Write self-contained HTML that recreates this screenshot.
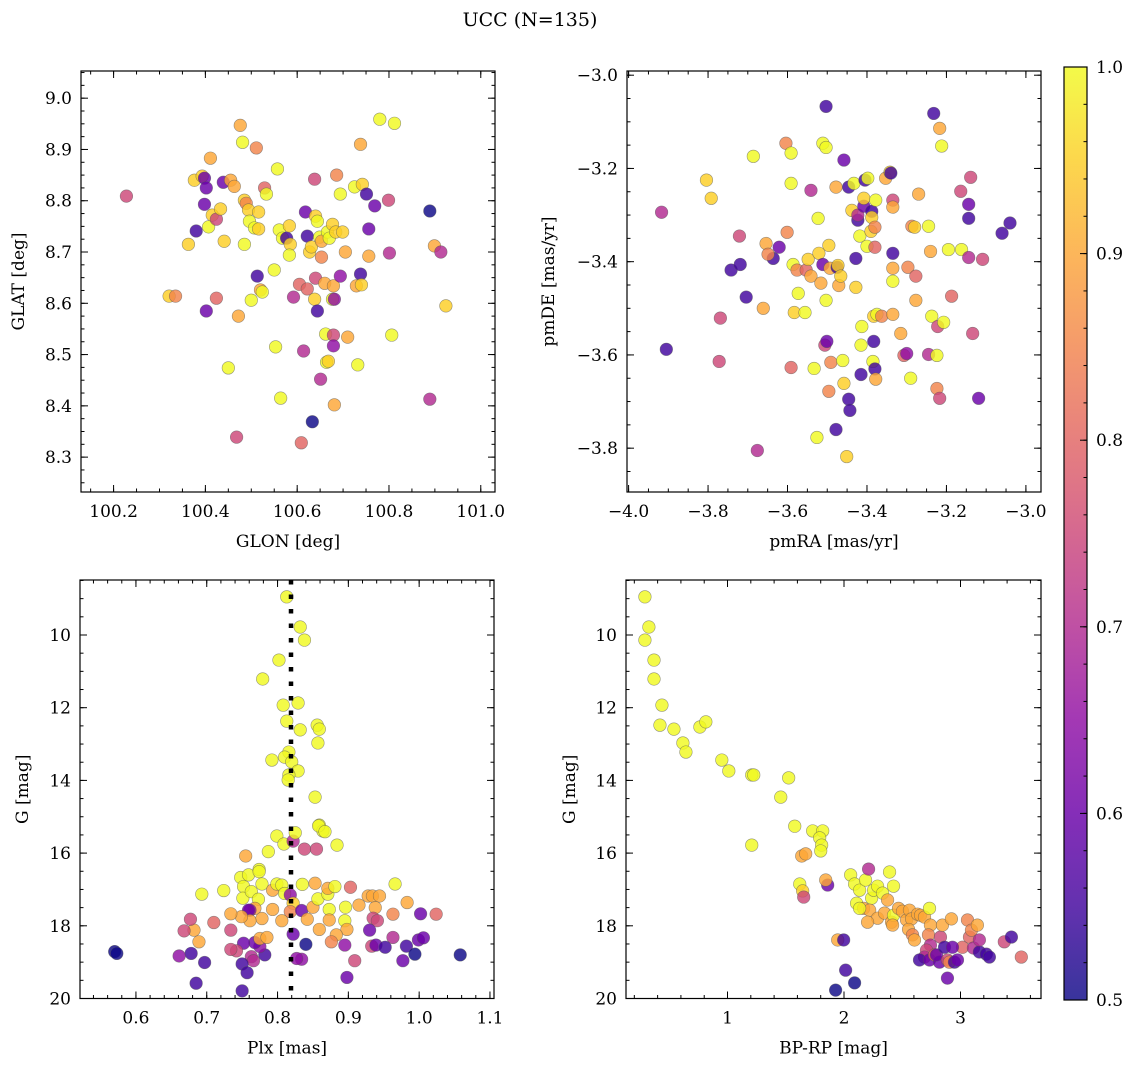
<!DOCTYPE html>
<html><head><meta charset="utf-8">
<style>
html,body{margin:0;padding:0;background:#fff;}
svg{display:block;font-family:"DejaVu Serif","Liberation Serif",serif;}
</style></head>
<body>
<svg id="chart" width="1136" height="1067" viewBox="0 0 1136 1067" xmlns="http://www.w3.org/2000/svg">
<rect width="1136" height="1067" fill="#fff"/>
<text x="530" y="26" text-anchor="middle" font-size="19">UCC (N=135)</text>
</svg>
<script>
// ---------- Panel 1: GLON vs GLAT ----------
const p1_glon=[100.228,100.321,100.335,100.363,100.376,100.380,100.393,100.398,100.402,100.398,100.402,100.407,100.411,100.415,100.424,100.424,100.433,100.441,100.439,100.450,100.455,100.463,100.468,100.472,100.476,100.481,100.485,100.485,100.489,100.494,100.496,100.500,100.507,100.511,100.516,100.516,100.520,100.524,100.529,100.533,100.513,100.550,100.553,100.557,100.561,100.564,100.568,100.577,100.583,100.585,100.583,100.592,100.605,100.609,100.614,100.618,100.622,100.622,100.627,100.631,100.638,100.633,100.638,100.640,100.640,100.644,100.644,100.651,100.649,100.653,100.653,100.660,100.662,100.664,100.666,100.670,100.668,100.677,100.677,100.679,100.681,100.679,100.679,100.681,100.684,100.686,100.694,100.694,100.699,100.705,100.710,100.725,100.729,100.732,100.738,100.738,100.740,100.742,100.751,100.756,100.756,100.769,100.780,100.799,100.801,100.806,100.812,100.889,100.889,100.899,100.913,100.924];
const p1_glat=[8.809,8.614,8.614,8.715,8.840,8.741,8.848,8.844,8.825,8.793,8.585,8.749,8.883,8.772,8.764,8.610,8.784,8.721,8.836,8.474,8.840,8.828,8.339,8.575,8.947,8.914,8.715,8.801,8.795,8.782,8.760,8.606,8.747,8.903,8.778,8.745,8.626,8.622,8.825,8.813,8.653,8.665,8.515,8.862,8.743,8.415,8.727,8.727,8.751,8.715,8.694,8.612,8.637,8.328,8.507,8.778,8.731,8.628,8.700,8.710,8.608,8.369,8.842,8.649,8.770,8.760,8.585,8.452,8.729,8.721,8.690,8.639,8.540,8.485,8.739,8.727,8.487,8.754,8.608,8.634,8.608,8.538,8.517,8.402,8.739,8.850,8.813,8.653,8.739,8.700,8.534,8.827,8.634,8.480,8.657,8.910,8.636,8.832,8.813,8.692,8.745,8.790,8.959,8.801,8.698,8.538,8.951,8.780,8.413,8.712,8.700,8.595];
const p1_c=[.75,.95,.85,.95,.95,.55,.95,.6,.6,.6,.6,1,.9,.95,.75,.8,.95,.95,.6,1,.9,.9,.75,.9,.9,1,1,.95,.85,.95,1,1,1,.85,.95,.95,.9,1,.8,1,.55,1,1,1,1,1,1,.55,.95,.95,1,.7,.8,.8,.7,.6,.55,.8,.95,.95,.95,.5,.75,.75,.95,1,.55,.7,1,.9,.85,.9,1,1,1,1,.95,.95,1,.9,.65,.75,.65,.9,.95,.85,1,.65,.95,.9,.9,1,.9,1,.55,.9,.95,.95,.55,.9,.6,.6,1,.75,.7,1,1,.5,.7,.9,.7,.95];
const p1_xticks=[100.2,100.4,100.6,100.8,101.0];
const p1_xlabels=["100.2","100.4","100.6","100.8","101.0"];
const p1_yticks=[8.3,8.4,8.5,8.6,8.7,8.8,8.9,9.0];
const p1_ylabels=["8.3","8.4","8.5","8.6","8.7","8.8","8.9","9.0"];

// ---------- Panel 2: pmRA vs pmDE ----------
const p2_pmra=[-3.917,-3.905,-3.804,-3.792,-3.742,-3.721,-3.719,-3.704,-3.769,-3.772,-3.686,-3.654,-3.636,-3.649,-3.661,-3.621,-3.604,-3.601,-3.591,-3.591,-3.591,-3.676,-3.586,-3.583,-3.576,-3.573,-3.556,-3.553,-3.548,-3.541,-3.541,-3.533,-3.526,-3.523,-3.521,-3.516,-3.511,-3.511,-3.506,-3.503,-3.503,-3.503,-3.501,-3.496,-3.496,-3.493,-3.491,-3.478,-3.475,-3.473,-3.471,-3.478,-3.466,-3.461,-3.458,-3.458,-3.451,-3.446,-3.446,-3.443,-3.438,-3.433,-3.428,-3.428,-3.423,-3.423,-3.418,-3.415,-3.415,-3.413,-3.408,-3.408,-3.405,-3.400,-3.398,-3.390,-3.388,-3.388,-3.385,-3.383,-3.380,-3.380,-3.378,-3.383,-3.380,-3.378,-3.375,-3.363,-3.353,-3.342,-3.340,-3.335,-3.335,-3.335,-3.335,-3.335,-3.335,-3.315,-3.307,-3.300,-3.297,-3.290,-3.287,-3.280,-3.277,-3.277,-3.270,-3.245,-3.245,-3.240,-3.237,-3.232,-3.224,-3.224,-3.222,-3.217,-3.217,-3.212,-3.207,-3.195,-3.187,-3.162,-3.164,-3.144,-3.144,-3.144,-3.139,-3.134,-3.119,-3.109,-3.06,-3.04];
const p2_pmde=[-3.294,-3.588,-3.225,-3.264,-3.418,-3.345,-3.406,-3.476,-3.521,-3.614,-3.174,-3.361,-3.393,-3.384,-3.500,-3.369,-3.146,-3.337,-3.167,-3.232,-3.627,-3.805,-3.406,-3.509,-3.418,-3.468,-3.509,-3.418,-3.395,-3.247,-3.431,-3.629,-3.777,-3.307,-3.382,-3.446,-3.146,-3.406,-3.579,-3.155,-3.067,-3.483,-3.571,-3.365,-3.678,-3.414,-3.616,-3.240,-3.412,-3.408,-3.451,-3.760,-3.431,-3.612,-3.182,-3.661,-3.818,-3.240,-3.695,-3.719,-3.290,-3.232,-3.393,-3.455,-3.311,-3.300,-3.345,-3.579,-3.642,-3.539,-3.281,-3.264,-3.225,-3.367,-3.221,-3.335,-3.292,-3.305,-3.614,-3.517,-3.326,-3.369,-3.268,-3.571,-3.630,-3.652,-3.513,-3.517,-3.221,-3.208,-3.210,-3.268,-3.283,-3.414,-3.382,-3.513,-3.442,-3.554,-3.601,-3.597,-3.412,-3.650,-3.324,-3.326,-3.431,-3.483,-3.255,-3.324,-3.599,-3.378,-3.517,-3.082,-3.672,-3.601,-3.539,-3.114,-3.693,-3.152,-3.530,-3.374,-3.474,-3.374,-3.249,-3.307,-3.277,-3.391,-3.219,-3.554,-3.693,-3.395,-3.339,-3.317];
const p2_c=[.7,.55,.95,.95,.55,.75,.55,.55,.75,.75,1,.9,.55,.85,.9,.6,.85,.85,1,1,.8,.7,1,.95,.85,1,1,.8,.95,.7,.9,1,1,1,.95,.9,1,.6,.75,1,.55,1,.6,.95,.85,.9,.85,.9,.55,.95,.9,.55,.95,1,.6,.95,.95,.55,.55,.55,.95,1,.55,.95,.55,.7,1,1,.55,1,.6,.95,.55,1,1,.95,.55,.95,1,.95,.85,.8,1,.55,.55,.9,1,.85,.9,.95,.55,.75,.9,.9,.55,.9,1,.9,.8,.65,.85,1,.85,.95,.8,.9,.9,1,.7,.9,1,.55,.85,1,.75,.9,.75,1,1,1,.8,1,.75,.55,.6,.7,.75,.75,.6,.75,.55,.55];
const p2_xticks=[-4.0,-3.8,-3.6,-3.4,-3.2,-3.0];
const p2_xlabels=["\u22124.0","\u22123.8","\u22123.6","\u22123.4","\u22123.2","\u22123.0"];
const p2_yticks=[-3.8,-3.6,-3.4,-3.2,-3.0];
const p2_ylabels=["\u22123.8","\u22123.6","\u22123.4","\u22123.2","\u22123.0"];

// ---------- Panel 3: Plx vs G ----------
const p3_plx=[0.813,0.832,0.838,0.802,0.779,0.808,0.829,0.813,0.856,0.859,0.832,0.857,0.816,0.810,0.792,0.820,0.829,0.816,0.815,0.853,0.799,0.859,0.864,0.809,0.884,0.822,0.838,0.855,0.755,0.787,0.825,0.858,0.867,0.693,0.724,0.748,0.752,0.759,0.774,0.774,0.778,0.751,0.763,0.773,0.768,0.761,0.793,0.799,0.806,0.810,0.818,0.822,0.818,0.835,0.853,0.834,0.850,0.857,0.871,0.871,0.881,0.903,0.873,0.873,0.842,0.859,0.896,0.895,0.898,0.883,0.876,0.895,0.915,0.928,0.934,0.944,0.938,0.935,0.941,0.966,0.963,0.983,1.024,1.002,0.930,0.963,0.933,0.939,0.952,0.982,0.994,0.999,1.006,0.977,1.058,0.909,0.898,0.840,0.834,0.827,0.822,0.782,0.775,0.768,0.763,0.766,0.752,0.750,0.757,0.750,0.742,0.734,0.734,0.759,0.775,0.785,0.778,0.761,0.749,0.734,0.793,0.806,0.710,0.682,0.689,0.677,0.668,0.678,0.661,0.697,0.685,0.570,0.573];
const p3_g=[8.95,9.78,10.14,10.69,11.21,11.93,11.87,12.37,12.48,12.59,12.61,12.97,13.22,13.36,13.44,13.49,13.74,13.85,13.99,14.46,15.53,15.23,15.39,15.75,15.78,15.67,15.89,15.89,16.08,15.96,15.44,15.25,15.41,17.13,17.03,16.67,16.92,16.60,16.45,16.51,16.85,17.24,17.06,17.27,17.52,17.57,17.02,16.85,16.88,17.11,17.15,17.38,17.61,16.86,16.83,17.58,17.49,17.26,17.13,16.97,16.92,16.94,17.55,17.84,17.82,18.10,17.49,17.86,18.10,18.25,18.44,18.53,17.43,17.18,17.18,17.18,17.50,17.79,17.86,16.85,17.68,17.36,17.68,17.67,18.12,18.32,18.56,18.53,18.59,18.56,18.78,18.39,18.33,18.96,18.80,18.96,19.42,18.51,18.92,18.90,18.23,18.80,18.57,18.46,18.85,18.96,18.48,19.05,19.29,19.79,18.69,18.65,18.12,17.57,18.35,18.32,17.80,17.86,17.75,17.67,17.55,17.86,17.91,18.12,18.44,17.82,18.14,18.76,18.83,19.01,19.58,18.71,18.76];
const p3_c=[1,1,1,1,1,1,1,1,1,1,1,1,1,1,1,1,1,1,1,1,1,1,1,1,1,.7,.75,.75,.9,1,1,1,1,1,1,1,1,1,1,1,1,1,1,1,.9,.65,.9,1,1,1,.65,.95,.85,1,.9,.6,.9,1,1,.9,1,.8,1,.9,.9,.9,1,1,.9,.9,.85,.65,.9,.9,.9,.9,.9,.75,.75,1,.85,.9,.8,.6,.6,.7,.75,.6,.55,.55,.5,.6,.6,.6,.5,.75,.6,.5,.65,.65,.6,.55,.65,.6,.7,.7,.6,.55,.55,.55,.75,.75,.75,.6,.9,.9,.9,.9,.9,.9,.9,.9,.8,.9,.9,.75,.75,.55,.65,.55,.55,.5,.5];
const p3_xticks=[0.6,0.7,0.8,0.9,1.0,1.1];
const p3_xlabels=["0.6","0.7","0.8","0.9","1.0","1.1"];
const p3_yticks=[10,12,14,16,18,20];
const p3_ylabels=["10","12","14","16","18","20"];
const p3_plxMean=[0.819];

// ---------- Panel 4: BP-RP vs G ----------
const p4_bprp=[0.291,0.325,0.291,0.369,0.369,0.437,0.420,0.540,0.763,0.814,0.617,0.643,0.951,1.011,1.208,1.225,1.525,1.457,1.208,1.577,1.731,1.817,1.637,1.671,1.620,1.645,1.654,1.791,1.808,1.800,1.860,1.946,1.997,2.014,2.091,1.928,1.843,2.057,2.091,2.134,2.185,2.211,2.237,2.254,2.288,2.331,2.374,2.391,2.425,2.108,2.168,2.220,2.288,2.348,2.408,2.202,2.425,2.134,2.417,2.468,2.502,2.537,2.562,2.580,2.554,2.588,2.605,2.631,2.657,2.691,2.734,2.742,2.725,2.742,2.708,2.691,2.648,2.734,2.777,2.820,2.794,2.828,2.845,2.863,2.888,2.905,2.948,2.888,2.922,3.017,3.077,3.060,3.094,3.145,3.111,3.162,3.222,3.248,3.162,3.376,3.437,3.522,2.931,2.974];
const p4_g=[8.95,9.78,10.14,10.69,11.21,11.93,12.48,12.59,12.53,12.39,12.97,13.22,13.44,13.74,13.85,13.85,13.93,14.46,15.78,15.26,15.39,15.39,16.08,16.02,16.85,17.04,17.21,15.58,15.78,15.94,16.88,18.39,18.39,19.22,19.57,19.77,16.74,16.60,16.85,17.02,16.74,16.44,17.24,17.02,16.91,17.10,17.29,16.52,16.91,17.38,17.52,17.57,17.79,17.65,17.90,17.90,17.71,17.52,17.98,17.52,17.60,17.84,17.57,17.81,18.10,18.25,18.39,17.68,17.71,17.76,17.52,17.98,18.25,18.53,18.67,18.86,18.94,18.94,18.80,19.00,18.80,18.31,17.98,18.59,18.94,19.00,19.00,19.44,17.81,18.59,18.31,17.84,18.12,17.98,18.61,18.72,18.78,18.86,18.39,18.44,18.31,18.86,18.59,18.94];
const p4_c=[1,1,1,1,1,1,1,1,1,1,1,1,1,1,1,1,1,1,1,1,1,1,.9,.9,1,.95,.75,1,1,1,.6,.9,.55,.55,.5,.5,.9,1,1,1,1,.7,1,1,1,1,.9,1,1,1,.9,.9,.9,.9,.9,.9,1,1,.9,.9,.9,.9,.9,.9,.9,.85,.9,.9,.9,.9,1,.9,.85,.7,.75,.7,.55,.6,.8,.6,.6,.75,.9,.55,.75,.85,.55,.6,.9,.8,.8,.85,.85,.9,.7,.55,.55,.55,.7,.75,.55,.8,.6,.6];
const p4_xticks=[1,2,3];
const p4_xlabels=["1","2","3"];
const p4_yticks=[10,12,14,16,18,20];
const p4_ylabels=["10","12","14","16","18","20"];

// ---------- Colorbar ----------
const cb_ticks=[0.5,0.6,0.7,0.8,0.9,1.0];
const cb_labels=["0.5","0.6","0.7","0.8","0.9","1.0"];

const NS="http://www.w3.org/2000/svg";
const svg=document.getElementById('chart');
const PL=["#0d0887","#41049d","#6a00a8","#8f0da4","#b12a90","#cc4778","#e16462","#f2844b","#fca636","#fcce25","#f0f921"];
const FS=17;
function hx(h){return [parseInt(h.substr(1,2),16),parseInt(h.substr(3,2),16),parseInt(h.substr(5,2),16)];}
function plasma(t){t=Math.max(0,Math.min(1,t));const s=t*10;const i=Math.min(9,Math.floor(s));const f=s-i;const a=hx(PL[i]),b=hx(PL[i+1]);
 return "rgb("+a.map((v,k)=>Math.round(v+(b[k]-v)*f)).join(",")+")";}
function cmap(v){return plasma((v-0.5)/0.5);}
function mk(tag,attrs,parent){const e=document.createElementNS(NS,tag);for(const k in attrs)e.setAttribute(k,attrs[k]);(parent||svg).appendChild(e);return e;}

function panel(o){
 const g=mk('g',{});
 
 
 const sx=v=>o.x0+(v-o.xmin)/(o.xmax-o.xmin)*(o.x1-o.x0);
 const sy=v=>o.yinv? o.y0+(v-o.ymin)/(o.ymax-o.ymin)*(o.y1-o.y0) : o.y1-(v-o.ymin)/(o.ymax-o.ymin)*(o.y1-o.y0);
 const pg=mk('g',{},g);
 
 
 for(let i=0;i<o.xs.length;i++){
  const c=mk('circle',{cx:sx(o.xs[i]),cy:sy(o.ys[i]),r:6.3,fill:cmap(o.cs[i]),'fill-opacity':0.82,stroke:'#555','stroke-opacity':0.6,'stroke-width':0.6},pg);
  
  
 }
 if(o.extra)o.extra(g,sx,sy);
 const fr=mk('rect',{x:o.x0,y:o.y0,width:o.x1-o.x0,height:o.y1-o.y0,fill:'none',stroke:'#000','stroke-width':1.2},g);
 
 
 const tg=mk('g',{stroke:'#000','stroke-width':1},g);
 
 
 function xt(v,len){const x=sx(v);if(x<o.x0-0.5||x>o.x1+0.5)return;mk('line',{x1:x,x2:x,y1:o.y1,y2:o.y1-len},tg);mk('line',{x1:x,x2:x,y1:o.y0,y2:o.y0+len},tg);}
 function yt(v,len){const y=sy(v);if(y<o.y0-0.5||y>o.y1+0.5)return;mk('line',{x1:o.x0,x2:o.x0+len,y1:y,y2:y},tg);mk('line',{x1:o.x1,x2:o.x1-len,y1:y,y2:y},tg);}
 const lo=Math.min(o.xmin,o.xmax),hi=Math.max(o.xmin,o.xmax);
 for(let k=Math.ceil(lo/o.xminor-1e-6);k*o.xminor<=hi+1e-9;k++)xt(k*o.xminor,3.5);
 const ylo=Math.min(o.ymin,o.ymax),yhi=Math.max(o.ymin,o.ymax);
 for(let k=Math.ceil(ylo/o.yminor-1e-6);k*o.yminor<=yhi+1e-9;k++)yt(k*o.yminor,3.5);
 o.xticks.forEach((v,i)=>{xt(v,7);const t=mk('text',{x:sx(v),y:o.y1+25,'text-anchor':'middle','font-size':FS},g);t.textContent=o.xlabels[i];
  });
 o.yticks.forEach((v,i)=>{yt(v,7);const t=mk('text',{x:o.x0-9,y:sy(v)+6,'text-anchor':'end','font-size':FS},g);t.textContent=o.ylabels[i];
  });
 const xl=mk('text',{x:(o.x0+o.x1)/2,y:o.y1+55,'text-anchor':'middle','font-size':FS},g);xl.textContent=o.xtitle;
 
 const yl=mk('text',{x:o.ylx,y:(o.y0+o.y1)/2,'text-anchor':'middle','font-size':FS,transform:'rotate(-90 '+o.ylx+' '+((o.y0+o.y1)/2)+')'},g);yl.textContent=o.ytitle;
 
}

panel({name:'glon-glat-panel',x0:81,x1:495,y0:71,y1:492,xmin:100.129,xmax:101.031,ymin:8.232,ymax:9.053,
 xs:p1_glon,ys:p1_glat,cs:p1_c,xticks:p1_xticks,xlabels:p1_xlabels,yticks:p1_yticks,ylabels:p1_ylabels,xminor:0.05,yminor:0.025,
 xtitle:'GLON [deg]',ytitle:'GLAT [deg]',ylx:24});
panel({name:'pm-panel',x0:627,x1:1041,y0:71,y1:492,xmin:-4.004,xmax:-2.962,ymin:-3.894,ymax:-2.991,
 xs:p2_pmra,ys:p2_pmde,cs:p2_c,xticks:p2_xticks,xlabels:p2_xlabels,yticks:p2_yticks,ylabels:p2_ylabels,xminor:0.05,yminor:0.05,
 xtitle:'pmRA [mas/yr]',ytitle:'pmDE [mas/yr]',ylx:554});
panel({name:'plx-g-panel',x0:80,x1:494,y0:580,y1:998.5,xmin:0.521,xmax:1.1057,ymin:8.487,ymax:20,yinv:true,
 xs:p3_plx,ys:p3_g,cs:p3_c,xticks:p3_xticks,xlabels:p3_xlabels,yticks:p3_yticks,ylabels:p3_ylabels,xminor:0.02,yminor:0.5,
 xtitle:'Plx [mas]',ytitle:'G [mag]',ylx:28,
 extra:(g,sx,sy)=>{p3_plxMean.forEach(v=>{const l=mk('line',{x1:sx(v),x2:sx(v),y1:580,y2:998.5,stroke:'#000','stroke-width':4.5,'stroke-dasharray':'4.5 10'},g);
  });}});
panel({name:'cmd-panel',x0:626,x1:1041,y0:580,y1:998.5,xmin:0.1286,xmax:3.691,ymin:8.487,ymax:20,yinv:true,
 xs:p4_bprp,ys:p4_g,cs:p4_c,xticks:p4_xticks,xlabels:p4_xlabels,yticks:p4_yticks,ylabels:p4_ylabels,xminor:0.2,yminor:0.5,
 xtitle:'BP-RP [mag]',ytitle:'G [mag]',ylx:575});

(function(){
 const cx0=1064,cx1=1087,cy0=67,cy1=1000;
 const defs=mk('defs',{});
 const lg=mk('linearGradient',{id:'cbg',x1:0,y1:1,x2:0,y2:0},defs);
 for(let i=0;i<=20;i++){mk('stop',{offset:(i/20),'stop-color':plasma(i/20),'stop-opacity':0.82},lg);}
 const cg=mk('g',{});
 
 
 mk('rect',{x:cx0,y:cy0,width:cx1-cx0,height:cy1-cy0,fill:'url(#cbg)',stroke:'#000','stroke-width':1.2},cg);
 const sy=v=>cy1-(v-0.5)/0.5*(cy1-cy0);
 for(let k=25;k<=50;k++){const v=k*0.02;const y=sy(v);mk('line',{x1:cx1,x2:cx1-3.5,y1:y,y2:y,stroke:'#000'},cg);}
 cb_ticks.forEach((v,i)=>{const y=sy(v);mk('line',{x1:cx1,x2:cx1-7,y1:y,y2:y,stroke:'#000'},cg);
  const t=mk('text',{x:cx1+9,y:y+6,'font-size':FS},cg);t.textContent=cb_labels[i];
  });
})();
</script>
</body></html>
